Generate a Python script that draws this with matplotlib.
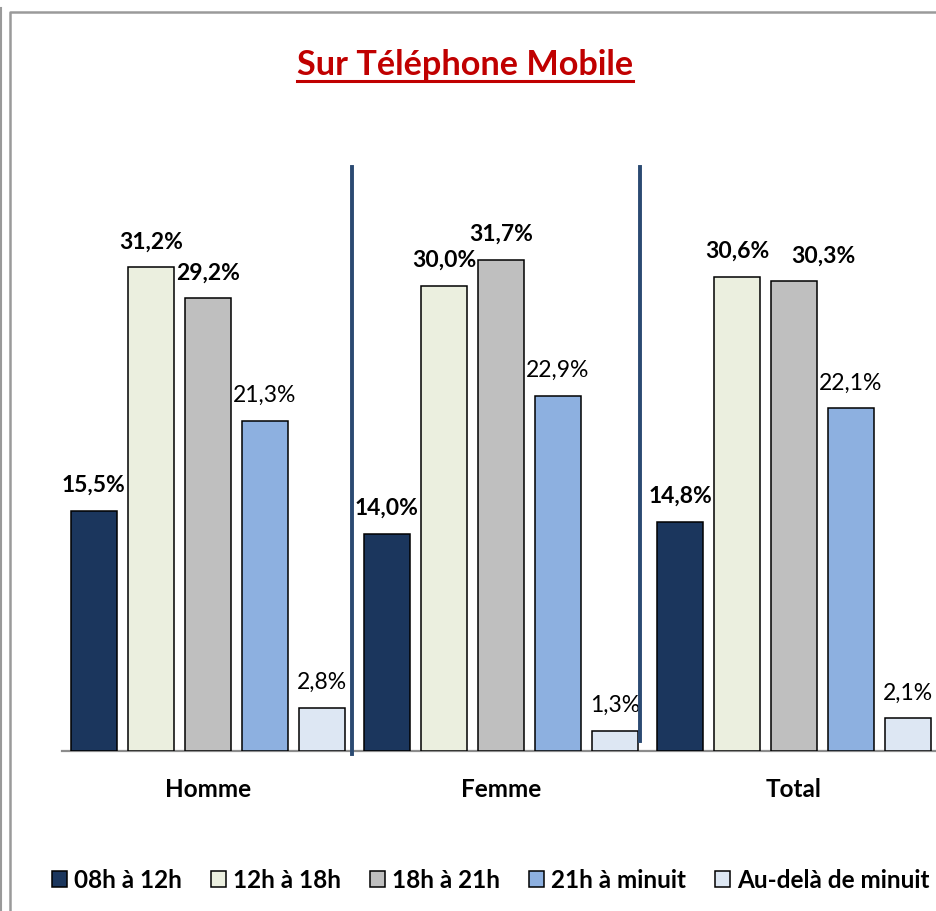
import numpy as np
import matplotlib
matplotlib.use("Agg")
import matplotlib.pyplot as plt
from matplotlib.lines import Line2D
from matplotlib.patches import Patch

plt.rcParams['font.family'] = ['Lato', 'DejaVu Sans']

# data
groups = ["Homme", "Femme", "Total"]
series = ["08h à 12h", "12h à 18h", "18h à 21h", "21h à minuit", "Au-delà de minuit"]
h_0812 = [15.5, 14.0, 14.8]
h_1218 = [31.2, 30.0, 30.6]
h_1821 = [29.2, 31.7, 30.3]
h_21min = [21.3, 22.9, 22.1]
h_apres = [2.8, 1.3, 2.1]
values = [h_0812, h_1218, h_1821, h_21min, h_apres]

colors = ["#1B365D", "#EBEFDF", "#BFBFBF", "#8DB0E0", "#DDE7F3"]
bold_lbl = [True, True, True, False, False]
# excel moved one label sideways to avoid overlap (series, group) -> dx in points
nudge = {(2, 2): 21}

W, H = 937, 912
fig = plt.figure(figsize=(W / 100, H / 100), dpi=100)

# frame lines like the screenshot
fig.add_artist(Line2D([1.5 / W, 1.5 / W], [0, 1 - 9 / H], color="#9a9a9a", lw=1.5))
fig.add_artist(Line2D([10.5 / W, 10.5 / W, 1], [0, 1 - 13 / H, 1 - 13 / H], color="#9a9a9a", lw=1.8))

ax = fig.add_axes([62 / W, 160 / H, 1 - 62 / W, 589 / H])
ax.set_xlim(-0.498, 2.488)
ax.set_ylim(0, 38)

x = np.arange(len(groups))
step = 57 / 293
bw = 46 / 293
for i, (vals, c) in enumerate(zip(values, colors)):
    pos = x + (i - 2) * step
    bars = ax.bar(pos, vals, width=bw, color=c, edgecolor="black", linewidth=1.1, zorder=3)
    for j, (b, v) in enumerate(zip(bars, vals)):
        ax.annotate(f"{v:.1f}%".replace(".", ","), (b.get_x() + b.get_width() / 2, v),
                    xytext=(nudge.get((i, j), 0), 19), textcoords="offset points",
                    ha="center", va="center", fontsize=16.5,
                    fontweight="bold" if bold_lbl[i] else "normal", color="black")

# separators between groups
ax.axvline(0.49, ymin=-0.005, ymax=0.992, color="#2B4A72", lw=2.8, clip_on=False, zorder=4)
ax.axvline(1.475, ymin=0.017, ymax=0.992, color="#2B4A72", lw=2.8, clip_on=False, zorder=4)

for s in ["top", "right", "left"]:
    ax.spines[s].set_visible(False)
ax.spines["bottom"].set_color("#8c8c8c")
ax.spines["bottom"].set_linewidth(1.6)
ax.set_yticks([])
ax.set_xticks(x)
ax.set_xticklabels(groups, fontsize=17.5, fontweight="bold")
ax.tick_params(axis="x", length=0, pad=19)

# title with underline
t = fig.text(465 / W, 1 - 65 / H, "Sur Téléphone Mobile", ha="center", va="center",
             fontsize=24.7, fontweight="bold", color="#C00000")
fig.canvas.draw()
bb = t.get_window_extent()
uy = 1 - 82 / H
fig.add_artist(Line2D([bb.x0 / W, bb.x1 / W], [uy, uy], color="#C00000", lw=2.2))

handles = [Patch(facecolor=c, edgecolor="black", linewidth=1.1) for c in colors]
fig.legend(handles, series, loc="center", bbox_to_anchor=(491 / W, 1 - 881 / H), ncol=5,
           frameon=False, prop={"size": 17.5, "weight": "bold"}, handlelength=0.6,
           handleheight=0.6, handletextpad=0.3, columnspacing=1.2)

fig.savefig("out.png", dpi=100, facecolor="white")
